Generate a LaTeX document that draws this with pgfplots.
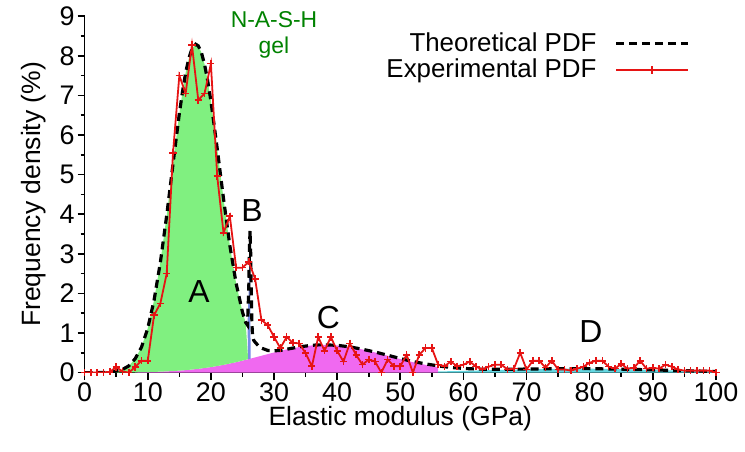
\documentclass[border=0pt]{standalone}
\usepackage{pgfplots}
\pgfplotsset{compat=1.18}
\usepackage{fontspec}
\setmainfont{Liberation Sans}

\definecolor{fillA}{RGB}{128,240,128}
\definecolor{fillB}{RGB}{120,140,230}
\definecolor{fillC}{RGB}{240,105,240}
\definecolor{fillD}{RGB}{100,215,225}
\definecolor{expred}{RGB}{230,20,20}
\definecolor{gelgreen}{RGB}{0,130,0}

\begin{document}
\begin{tikzpicture}
\begin{axis}[
    scale only axis,
    width=317pt, height=179pt,
    xmin=0, xmax=100, ymin=0, ymax=9,
    clip mode=individual,
    axis x line*=bottom, axis y line*=left,
    axis line style={line width=0.8pt,-},
    xtick={0,10,...,100}, ytick={0,1,...,9},
    minor x tick num=1, minor y tick num=1,
    tick align=outside,
    major tick length=3.5pt, minor tick length=2pt,
    tick style={line width=0.8pt, black},
    ticklabel style={font=\fontsize{13.5}{15}\selectfont},
    xticklabel style={yshift=2pt},
    yticklabel style={xshift=2pt},
    /pgf/number format/assume math mode=true,
    xlabel={Elastic modulus (GPa)},
    ylabel={Frequency density (\%)},
    label style={font=\fontsize{13.3}{15}\selectfont},
    xlabel style={yshift=4.5pt},
    ylabel style={yshift=0pt},
    legend style={draw=none, fill=none, at={(axis cs:96.8,8.8)}, anchor=north east,
        font=\fontsize{13}{14}\selectfont, row sep=-1.5pt, column sep=7pt},
    legend cell align=right,
    legend plot pos=right,
    legend image code/.code={\draw[mark repeat=2,mark phase=2,#1] plot coordinates {(0pt,0pt) (18pt,0pt) (36pt,0pt)};},
]
% component fills
\addplot[fill=fillC, draw=none, forget plot] coordinates {
 (8,0) (8,0.008) (10,0.014) (12,0.024) (14,0.039) (16,0.062) (18,0.095) (20,0.139)
 (22,0.195) (24,0.263) (26,0.341) (28,0.425) (30,0.508) (32,0.585) (34,0.646)
 (36,0.686) (38,0.70) (40,0.686) (42,0.646) (44,0.585) (46,0.508) (48,0.425)
 (50,0.341) (52,0.263) (54,0.195) (56,0.139) (56,0)};
\addplot[fill=fillD, draw=none, forget plot] coordinates {
 (56,0) (56,0.029) (60,0.044) (65,0.065) (70,0.085) (75,0.098) (80,0.099)
 (85,0.088) (90,0.069) (95,0.048) (100,0.029) (100,0)};
\addplot[fill=fillA, draw=none, forget plot] coordinates {
 (4,0) (4,0.015) (5,0.04) (6,0.08) (7,0.17) (8,0.35) (9,0.64) (10,1.12) (11,1.83)
 (12,2.79) (13,3.97) (14,5.27) (15,6.54) (15.5,7.09) (16,7.57) (16.5,7.93) (17,8.18)
 (17.6,8.29) (18,8.25) (18.5,8.08) (19,7.78) (19.5,7.36) (20,6.86) (21,5.66)
 (22,4.39) (23,3.21) (24,2.25) (25,1.53) (25.5,1.27) (25.9,0.34)
 (24,0.263) (22,0.195) (20,0.139) (18,0.095) (16,0.062) (14,0.039) (12,0.024)
 (10,0.014) (8,0.008) (6,0.004) (4,0)};
\addplot[fill=fillB, draw=none, forget plot] coordinates {
 (25.9,0.34) (25.8,1.20) (26.0,2.12) (26.15,3.3) (26.3,0.35)};

% theoretical PDF
\addplot[black, line width=1.6pt, dash pattern=on 4pt off 2.5pt, no marks] coordinates {
 (0,0) (1,0) (2,0) (3,0.003) (4,0.015) (5,0.04) (6,0.08) (7,0.17) (8,0.35) (9,0.64)
 (10,1.12) (11,1.83) (12,2.79) (13,3.97) (14,5.27) (15,6.54) (15.5,7.09) (16,7.57)
 (16.5,7.93) (17,8.18) (17.6,8.29) (18,8.25) (18.5,8.08) (19,7.78) (19.5,7.36)
 (20,6.86) (21,5.66) (22,4.39) (23,3.21) (24,2.25) (25,1.53) (25.5,1.27) (25.8,1.20)
 (26.0,2.12) (26.1,3.10) (26.2,3.58) (26.3,3.03) (26.4,1.99) (26.5,1.24) (26.6,0.93)
 (26.8,0.81) (27,0.77) (27.5,0.68) (28,0.62) (29,0.56) (30,0.55) (31,0.56) (32,0.59)
 (33,0.62) (34,0.65) (35,0.67) (36,0.69) (37,0.70) (38,0.70) (40,0.69) (42,0.65)
 (44,0.59) (46,0.52) (48,0.44) (50,0.355) (52,0.28) (54,0.22) (56,0.17) (58,0.13)
 (60,0.106) (62,0.091) (64,0.084) (66,0.084) (68,0.086) (70,0.09) (75,0.10)
 (80,0.10) (85,0.088) (90,0.069) (95,0.048) (100,0.029)};
\addlegendentry{Theoretical PDF}

% experimental PDF
\addplot[expred, line width=0.9pt, mark=+, mark size=1.8pt, mark options={line width=0.8pt}] coordinates {
 (0,0) (1,0) (2,0) (3,0) (4,0.02) (5,0.14) (6,0.03) (7,0) (8,0.14) (9,0.3)
 (10,0.3) (11,1.45) (12,1.75) (13,2.5) (14,5.55) (15,7.5) (16,7.05) (17,8.27) (18,6.88) (19,7.05)
 (20,7.8) (21,4.96) (22,3.53) (23,3.95) (24,2.65) (25,2.65) (26,2.8) (27,2.37) (28,1.33) (29,1.2)
 (30,0.9) (31,0.62) (32,0.9) (33,0.75) (34,0.74) (35,0.49) (36,0.16) (37,0.9) (38,0.55) (39,0.9)
 (40,0.55) (41,0.28) (42,0.74) (43,0.45) (44,0.2) (45,0.33) (46,0.28) (47,0) (48,0.33) (49,0.16)
 (50,0.16) (51,0.45) (52,0) (53,0.45) (54,0.62) (55,0.62) (56,0.2) (57,0.16) (58,0.28) (59,0.16)
 (60,0.2) (61,0.28) (62,0.15) (63,0.08) (64,0.15) (65,0.2) (66,0.2) (67,0.08) (68,0.1) (69,0.5)
 (70,0.08) (71,0.3) (72,0.3) (73,0.13) (74,0.3) (75,0.08) (76,0.08) (77,0.05) (78,0.1) (79,0.15)
 (80,0.25) (81,0.3) (82,0.3) (83,0.15) (84,0.1) (85,0.22) (86,0.1) (87,0.12) (88,0.3) (89,0.1)
 (90,0.12) (91,0.1) (92,0.2) (93,0.15) (94,0.08) (95,0.05) (96,0.05) (97,0.05) (98,0.05) (99,0.05)
 (100,0)};
\addlegendentry{Experimental PDF}

\node[font=\fontsize{16}{18}\selectfont] at (axis cs:18.1,2.04) {A};
\node[font=\fontsize{16}{18}\selectfont] at (axis cs:26.5,4.1) {B};
\node[font=\fontsize{16}{18}\selectfont] at (axis cs:38.6,1.38) {C};
\node[font=\fontsize{16}{18}\selectfont] at (axis cs:80.2,1.03) {D};
\node[font=\fontsize{11.5}{13}\selectfont, text=gelgreen, align=center] at (axis cs:30,8.53) {N-A-S-H\\gel};
\end{axis}
\path (current axis.south west) ++(-42.5pt,-39.5pt);
\path (current axis.north east) ++(13pt,7.5pt);
\end{tikzpicture}
\end{document}
